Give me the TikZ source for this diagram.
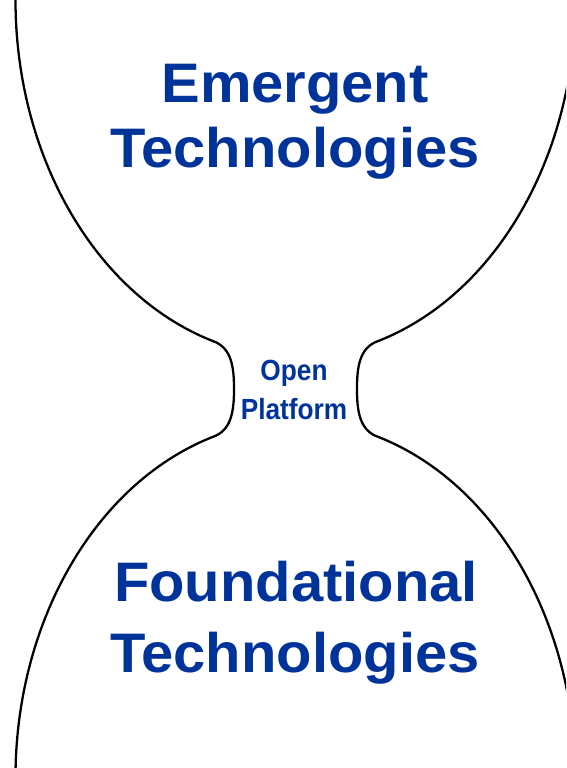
\documentclass[tikz,border=0pt]{standalone}
\usepackage{fontspec}
\setmainfont{Liberation Sans}
\newfontfamily\titleFont{Liberation Sans}[FakeStretch=1.04]
\newfontfamily\neckFont{Liberation Sans}[FakeStretch=0.9]

\begin{document}
\begin{tikzpicture}[x=0.02cm, y=0.02cm]
    % Define bulb sizes
    \def\radX{280}
    \def\radY{357}

    \definecolor{borderColour}{HTML}{000000}
    \definecolor{textColour}{HTML}{003399}

    \tikzset{
        bulbLine/.style={draw=borderColour, line width=1.3pt},
        bigLabel/.style={anchor=base, inner sep=0pt, text=textColour,
            font=\titleFont\bfseries\fontsize{31.7}{38}\selectfont},
        neckLabel/.style={anchor=base, inner sep=0pt, text=textColour,
            font=\neckFont\bfseries\fontsize{16.6}{20}\selectfont}
    }

    % Fix the page size
    \useasboundingbox (0,0) rectangle (566,768);
    \clip (0,0) rectangle (566,768);

    % Define the ends of the two bulbs at the neck
    \coordinate (upperLeft) at (212.5,427);
    \coordinate (lowerLeft) at (212.5,331);
    \coordinate (upperRight) at (378.5,427);
    \coordinate (lowerRight) at (378.5,331);
    \coordinate (knobLeft) at (234,379);
    \coordinate (knobRight) at (357,379);

    % Draw the left side of the hourglass
    \draw[bulbLine] (15.5,768)
        arc[start angle=180, end angle=252.76, x radius=\radX, y radius=\radY]
        to[out=-18, in=90] (knobLeft)
        to[out=-90, in=18] (lowerLeft)
        arc[start angle=107.24, end angle=180, x radius=\radX, y radius=\radY];

    % Draw the right side of the hourglass
    \draw[bulbLine] (575.5,768)
        arc[start angle=360, end angle=287.24, x radius=\radX, y radius=\radY]
        to[out=-162, in=90] (knobRight)
        to[out=-90, in=162] (lowerRight)
        arc[start angle=72.76, end angle=0, x radius=\radX, y radius=\radY];

    % Label the bulbs
    \node[bigLabel] (emergentWord) at (295,665.7) {Emergent};
    \node[bigLabel] (emergentTech) at (295,600) {Technologies};
    \node[bigLabel] (foundationalWord) at (296,166.3) {Foundational};
    \node[bigLabel] (foundationalTech) at (295,95.3) {Technologies};

    % Label the neck
    \node[neckLabel] (openWord) at (294,387) {Open};
    \node[neckLabel] (platformWord) at (294,348.7) {Platform};

\end{tikzpicture}
\end{document}
